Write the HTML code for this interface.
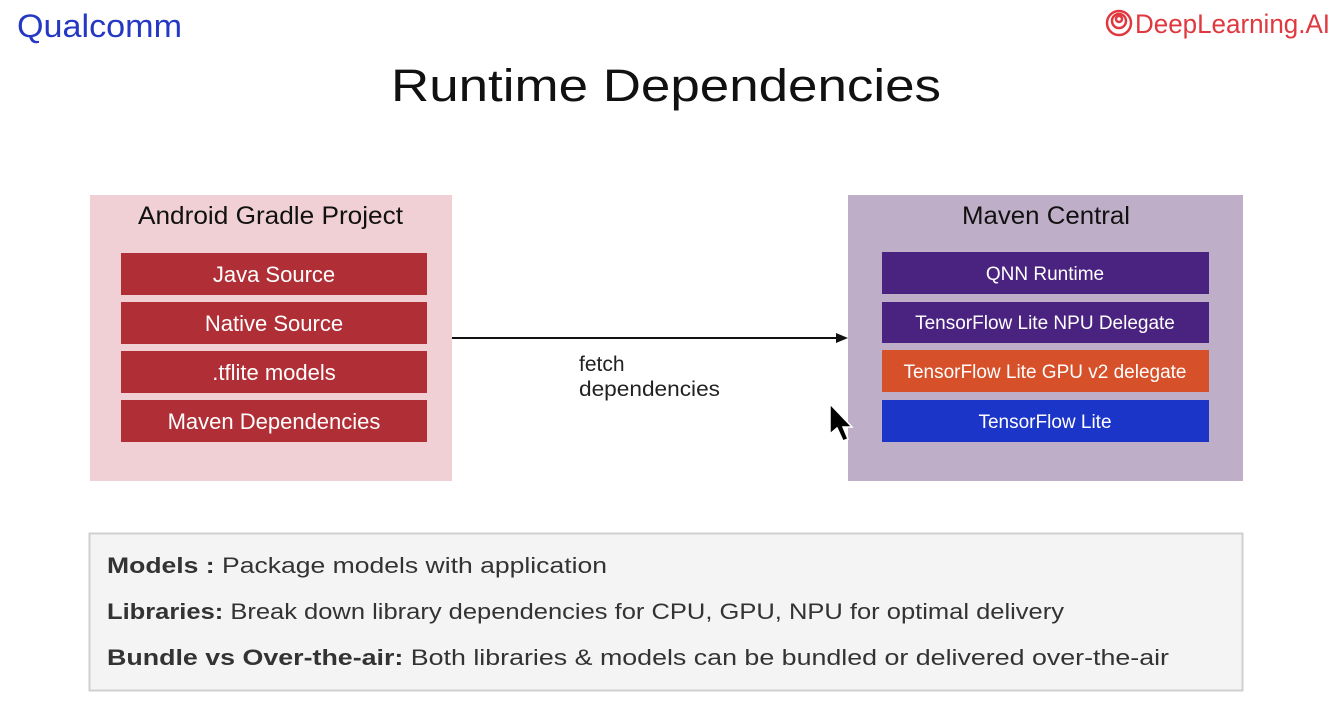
<!DOCTYPE html>
<html><head><meta charset="utf-8"><style>
html,body{margin:0;padding:0;background:#fff;}
svg{display:block;font-family:"Liberation Sans",sans-serif;}
</style></head><body>
<svg width="1332" height="713" viewBox="0 0 1332 713" xmlns="http://www.w3.org/2000/svg">
<rect width="1332" height="713" fill="#fff"/>
<text x="17" y="37" font-size="32" fill="#2438c4" textLength="165" lengthAdjust="spacingAndGlyphs">Qualcomm</text>
<g fill="none" stroke="#e0383e" stroke-width="2.5"><circle cx="1119" cy="23" r="12"/><circle cx="1119" cy="21" r="7"/><circle cx="1119" cy="19" r="3"/></g>
<text x="1135" y="33" font-size="27" fill="#e0383e" textLength="195" lengthAdjust="spacingAndGlyphs">DeepLearning.AI</text>
<text x="666" y="101" font-size="45" fill="#111" text-anchor="middle" textLength="550" lengthAdjust="spacingAndGlyphs">Runtime Dependencies</text>

<rect x="90" y="195" width="362" height="286" fill="#f0d0d4"/>
<text x="138" y="224" font-size="25" fill="#111" textLength="265" lengthAdjust="spacingAndGlyphs">Android Gradle Project</text>
<g fill="#b02f36"><rect x="121" y="253" width="306" height="42"/><rect x="121" y="302" width="306" height="42"/><rect x="121" y="351" width="306" height="42"/><rect x="121" y="400" width="306" height="42"/></g>
<g fill="#fff" font-size="22" text-anchor="middle"><text x="274" y="282">Java Source</text><text x="274" y="331">Native Source</text><text x="274" y="380">.tflite models</text><text x="274" y="429">Maven Dependencies</text></g>

<rect x="848" y="195" width="395" height="286" fill="#bfaec8"/>
<text x="962" y="224" font-size="25" fill="#111" textLength="168" lengthAdjust="spacingAndGlyphs">Maven Central</text>
<rect x="882" y="252" width="327" height="42" fill="#4a2380"/>
<rect x="882" y="302" width="327" height="41" fill="#4a2380"/>
<rect x="882" y="350" width="327" height="42" fill="#d6502a"/>
<rect x="882" y="400" width="327" height="42" fill="#1b35c8"/>
<g fill="#fff" font-size="19" text-anchor="middle"><text x="1045" y="280">QNN Runtime</text><text x="1045" y="329">TensorFlow Lite NPU Delegate</text><text x="1045" y="378">TensorFlow Lite GPU v2 delegate</text><text x="1045" y="428">TensorFlow Lite</text></g>

<line x1="452" y1="338" x2="840" y2="338" stroke="#111" stroke-width="2"/>
<path d="M836 333 L848 338 L836 343 Z" fill="#111"/>
<text x="579" y="371" font-size="21" fill="#222">fetch</text>
<text x="579" y="396" font-size="21" fill="#222" textLength="141" lengthAdjust="spacingAndGlyphs">dependencies</text>
<path d="M830 404 L830 434 L837 428 L843 441 L848 439 L843 427 L852 427 Z" fill="#000" stroke="#fff" stroke-width="1.5"/>

<rect x="89.5" y="533.5" width="1153" height="157" fill="#f4f4f4" stroke="#cfcfcf" stroke-width="2"/>
<g font-size="22" fill="#333">
<text x="107" y="573" textLength="500" lengthAdjust="spacingAndGlyphs"><tspan font-weight="bold">Models : </tspan>Package models with application</text>
<text x="107" y="619" textLength="957" lengthAdjust="spacingAndGlyphs"><tspan font-weight="bold">Libraries: </tspan>Break down library dependencies for CPU, GPU, NPU for optimal delivery</text>
<text x="107" y="665" textLength="1062" lengthAdjust="spacingAndGlyphs"><tspan font-weight="bold">Bundle vs Over-the-air: </tspan>Both libraries &amp; models can be bundled or delivered over-the-air</text>
</g>
</svg>
</body></html>
